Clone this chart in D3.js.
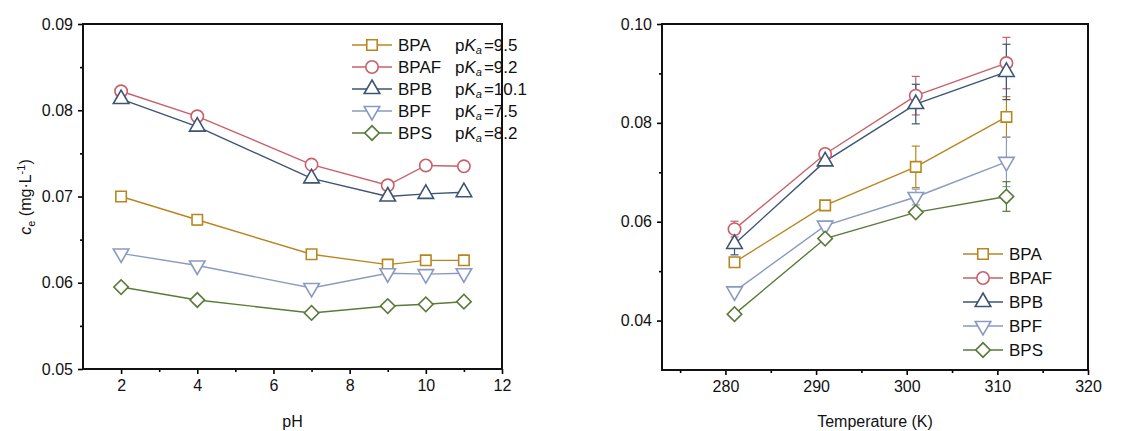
<!DOCTYPE html>
<html>
<head>
<meta charset="utf-8">
<script src="https://cdn.jsdelivr.net/npm/d3@7"></script>
<style>
  body { margin: 0; background: #fff; }
  svg { font-family: "Liberation Sans", Arial, sans-serif; }
</style>
</head>
<body>
<svg id="chart" width="1147" height="431"></svg>
<script>
// series shared by both panels
const names = ["BPA", "BPAF", "BPB", "BPF", "BPS"];
const colors = ["#b8861f", "#c8606a", "#3d5473", "#8a9ac0", "#5a7a3a"];
const shapes = ["square", "circle", "triangle", "triangleDown", "diamond"];
const pKa = ["9.5", "9.2", "10.1", "7.5", "8.2"];

// left panel: c_e vs pH
const phValues = [2, 4, 7, 9, 10, 11];
const phBPA  = [0.0700, 0.0673, 0.0633, 0.0621, 0.0626, 0.0626];
const phBPAF = [0.0822, 0.0793, 0.0737, 0.0713, 0.0736, 0.0735];
const phBPB  = [0.0813, 0.0781, 0.0721, 0.0700, 0.0703, 0.0705];
const phBPF  = [0.0634, 0.0620, 0.0594, 0.0611, 0.0610, 0.0611];
const phBPS  = [0.0595, 0.0580, 0.0565, 0.0573, 0.0575, 0.0578];
const phErrBPA  = [0.0003, 0.0006, 0.0002, 0.0002, 0.0002, 0.0002];
const phErrBPAF = [0.0002, 0.0002, 0.0003, 0.0002, 0.0002, 0.0002];
const phErrBPB  = [0.0002, 0.0004, 0.0002, 0.0003, 0.0004, 0.0003];
const phErrBPF  = [0.0002, 0.0003, 0.0003, 0.0003, 0.0003, 0.0003];
const phErrBPS  = [0.0002, 0.0002, 0.0002, 0.0002, 0.0002, 0.0002];

// right panel: c_e vs temperature
const tempValues = [281, 291, 301, 311];
const tBPA  = [0.0518, 0.0633, 0.0711, 0.0812];
const tBPAF = [0.0585, 0.0737, 0.0855, 0.0921];
const tBPB  = [0.0555, 0.0722, 0.0838, 0.0903];
const tBPF  = [0.0459, 0.0592, 0.0650, 0.0721];
const tBPS  = [0.0413, 0.0566, 0.0619, 0.0651];
const tErrBPA  = [0.0004, 0.0006, 0.0042, 0.0041];
const tErrBPAF = [0.0016, 0.0005, 0.0039, 0.0052];
const tErrBPB  = [0.0022, 0.0004, 0.0040, 0.0056];
const tErrBPF  = [0.0004, 0.0005, 0.0016, 0.0050];
const tErrBPS  = [0.0004, 0.0008, 0.0006, 0.0030];

const svg = d3.select("#chart");

function makeSeries(xs, ys, es) {
  return names.map((n, i) => ({
    name: n, color: colors[i], shape: shapes[i], pKa: pKa[i],
    points: xs.map((x, j) => ({ x, y: ys[i][j], e: es[i][j] }))
  }));
}

function markerPath(shape) {
  if (shape === "square") return d3.symbol(d3.symbolSquare, 110)();
  if (shape === "circle") return d3.symbol(d3.symbolCircle, 120)();
  if (shape === "diamond") return d3.symbol(d3.symbolSquare, 105)();
  return d3.symbol(d3.symbolTriangle, 105)();
}
function markerRotate(shape) {
  if (shape === "triangleDown") return " rotate(180)";
  if (shape === "diamond") return " rotate(45)";
  return "";
}

function drawMarker(g, s, x, y) {
  g.append("path")
    .attr("d", markerPath(s.shape))
    .attr("transform", `translate(${x},${y})${markerRotate(s.shape)}`)
    .attr("fill", "#fff")
    .attr("stroke", s.color)
    .attr("stroke-width", 1.6);
}

function drawPanel(opt) {
  const { left, top, width, height } = opt;
  const g = svg.append("g").attr("transform", `translate(${left},${top})`);
  const x = d3.scaleLinear().domain(opt.xDomain).range([0, width]);
  const y = d3.scaleLinear().domain(opt.yDomain).range([height, 0]);

  // axes: major + minor ticks, outward
  const xAxis = g.append("g").attr("transform", `translate(0,${height})`)
    .call(d3.axisBottom(x).tickValues(opt.xTicks).tickSize(5).tickPadding(6));
  const xMinor = g.append("g").attr("transform", `translate(0,${height})`)
    .call(d3.axisBottom(x).tickValues(opt.xMinor).tickSize(3).tickFormat(""));
  const yAxis = g.append("g")
    .call(d3.axisLeft(y).tickValues(opt.yTicks).tickSize(5).tickPadding(5).tickFormat(d3.format(".2f")));
  const yMinor = g.append("g")
    .call(d3.axisLeft(y).tickValues(opt.yMinor).tickSize(3).tickFormat(""));
  [xAxis, xMinor, yAxis, yMinor].forEach(a => {
    a.select(".domain").remove();
    a.selectAll(".tick line").attr("stroke", "#000").attr("stroke-width", 1.6);
    a.selectAll("text").attr("font-size", 16).attr("fill", "#111")
      .attr("font-family", "Liberation Sans, Arial, sans-serif");
  });

  g.append("rect").attr("width", width).attr("height", height)
    .attr("fill", "none").attr("stroke", "#111").attr("stroke-width", 2);

  const line = d3.line().x(d => x(d.x)).y(d => y(d.y));
  opt.series.forEach(s => {
    g.append("path").datum(s.points).attr("d", line)
      .attr("fill", "none").attr("stroke", s.color).attr("stroke-width", 1.4);
  });
  opt.series.forEach(s => {
    s.points.forEach(p => {
      const eb = g.append("g").attr("stroke", s.color).attr("stroke-width", 1.2);
      eb.append("line").attr("x1", x(p.x)).attr("x2", x(p.x))
        .attr("y1", y(p.y - p.e)).attr("y2", y(p.y + p.e));
      [p.y - p.e, p.y + p.e].forEach(v => {
        eb.append("line").attr("x1", x(p.x) - 4).attr("x2", x(p.x) + 4)
          .attr("y1", y(v)).attr("y2", y(v));
      });
    });
  });
  opt.series.forEach(s => {
    s.points.forEach(p => drawMarker(g, s, x(p.x), y(p.y)));
  });

  // x title
  svg.append("text").attr("x", left + width / 2).attr("y", 427)
    .attr("text-anchor", "middle").attr("font-size", 16).attr("fill", "#111")
    .text(opt.xTitle);

  // legend
  const lg = svg.append("g").attr("transform", `translate(${opt.legend.x},${opt.legend.y})`);
  opt.series.forEach((s, i) => {
    const row = lg.append("g").attr("transform", `translate(0,${i * opt.legend.step})`);
    row.append("line").attr("x1", 0).attr("x2", opt.legend.len)
      .attr("stroke", s.color).attr("stroke-width", 1.6);
    drawMarker(row, s, opt.legend.len / 2, 0);
    row.append("text").attr("x", opt.legend.len + 6).attr("y", 6)
      .attr("font-size", 17).attr("fill", "#111").text(s.name);
    if (opt.legend.pKa) {
      const t = row.append("text").attr("x", 103).attr("y", 6)
        .attr("font-size", 17).attr("fill", "#111");
      t.append("tspan").text("p");
      t.append("tspan").attr("font-style", "italic").text("K");
      t.append("tspan").attr("font-style", "italic").attr("font-size", 11).attr("dy", 3).text("a");
      t.append("tspan").attr("dy", -3).attr("dx", 2).text("=" + s.pKa);
    }
  });
  return g;
}

drawPanel({
  left: 83, top: 24, width: 419, height: 345,
  xDomain: [1, 12], yDomain: [0.05, 0.09],
  xTicks: [2, 4, 6, 8, 10, 12], xMinor: [3, 5, 7, 9, 11],
  yTicks: [0.05, 0.06, 0.07, 0.08, 0.09], yMinor: [0.055, 0.065, 0.075, 0.085],
  series: makeSeries(phValues, [phBPA, phBPAF, phBPB, phBPF, phBPS],
    [phErrBPA, phErrBPAF, phErrBPB, phErrBPF, phErrBPS]),
  xTitle: "pH",
  legend: { x: 352, y: 45, step: 22, len: 40, pKa: true }
});

drawPanel({
  left: 662, top: 24, width: 426, height: 346,
  xDomain: [273, 320], yDomain: [0.03, 0.10],
  xTicks: [280, 290, 300, 310, 320], xMinor: [275, 285, 295, 305, 315],
  yTicks: [0.04, 0.06, 0.08, 0.10], yMinor: [0.05, 0.07, 0.09],
  series: makeSeries(tempValues, [tBPA, tBPAF, tBPB, tBPF, tBPS],
    [tErrBPA, tErrBPAF, tErrBPB, tErrBPF, tErrBPS]),
  xTitle: "Temperature (K)",
  legend: { x: 963, y: 254, step: 24, len: 40, pKa: false }
});

// y title of the left panel
const yt = svg.append("text").attr("transform", "translate(31,197) rotate(-90)")
  .attr("text-anchor", "middle").attr("font-size", 16).attr("fill", "#111");
yt.append("tspan").attr("font-style", "italic").text("c");
yt.append("tspan").attr("font-size", 11).attr("dy", 4).text("e");
yt.append("tspan").attr("dy", -4).text(" (mg·L");
yt.append("tspan").attr("font-size", 11).attr("dy", -6).text("-1");
yt.append("tspan").attr("dy", 6).text(")");
</script>
</body>
</html>
